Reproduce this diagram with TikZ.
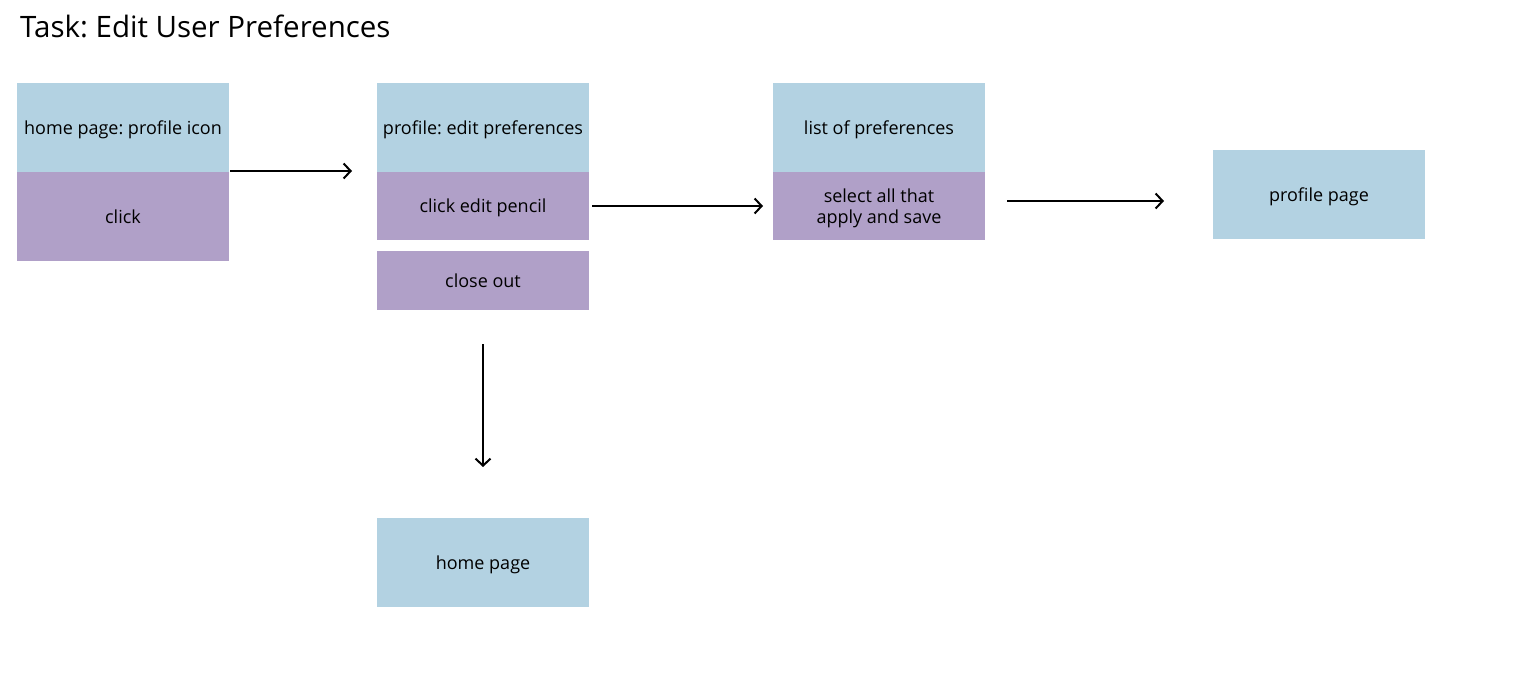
\documentclass[tikz,border=0pt]{standalone}
\usepackage{fontspec}
\setmainfont{Open Sans}
\usetikzlibrary{arrows.meta}
\definecolor{boxblue}{HTML}{B3D2E2}
\definecolor{boxpurple}{HTML}{B0A0C8}
\tikzset{
  base/.style={inner sep=0pt, minimum width=212pt, text=black, font=\fontsize{18}{21.5}\selectfont, align=center, text height=18pt, text depth=4pt},
  bluebox/.style={base, fill=boxblue, minimum height=89pt},
  purplebox/.style={base, fill=boxpurple},
  flow/.style={line width=2pt, -{Straight Barb[length=7pt,width=15pt,line width=2pt]}}
}
\frenchspacing
\begin{document}
\begin{tikzpicture}[x=1pt,y=-1pt]
\useasboundingbox (0,0) rectangle (1534,682);
\node[anchor=base west, inner sep=0pt, font=\fontsize{29.5}{32}\selectfont] (title) at (20,38) {Task: Edit User Preferences};

\node[bluebox] (a1) at (123,128) {home page: profile icon};
\node[purplebox, minimum height=89pt] (a2) at (123,216) {click};

\node[bluebox] (b1) at (483,128) {profile: edit preferences};
\node[purplebox, minimum height=68pt] (b2) at (483,205.5) {click edit pencil};
\node[purplebox, minimum height=59pt] (b3) at (483,280.5) {close out};

\node[bluebox] (c1) at (879,128) {list of preferences};
\node[purplebox, minimum height=68pt, text height=40pt, text depth=4pt] (c2) at (879,205.5) {select all that\\apply and save};

\node[bluebox] (d1) at (1319,194.5) {profile page};
\node[bluebox] (e1) at (483,562.5) {home page};

\coordinate (a2s) at (230,171);
\coordinate (a2e) at (352,171);
\coordinate (b2s) at (592,206);
\coordinate (b2e) at (763,206);
\coordinate (c2s) at (1007,201);
\coordinate (c2e) at (1164,201);
\coordinate (b3s) at (483,344);
\coordinate (b3e) at (483,467);

\draw[flow] (a2s) -- (a2e);
\draw[flow] (b2s) -- (b2e);
\draw[flow] (c2s) -- (c2e);
\draw[flow] (b3s) -- (b3e);
\end{tikzpicture}
\end{document}
